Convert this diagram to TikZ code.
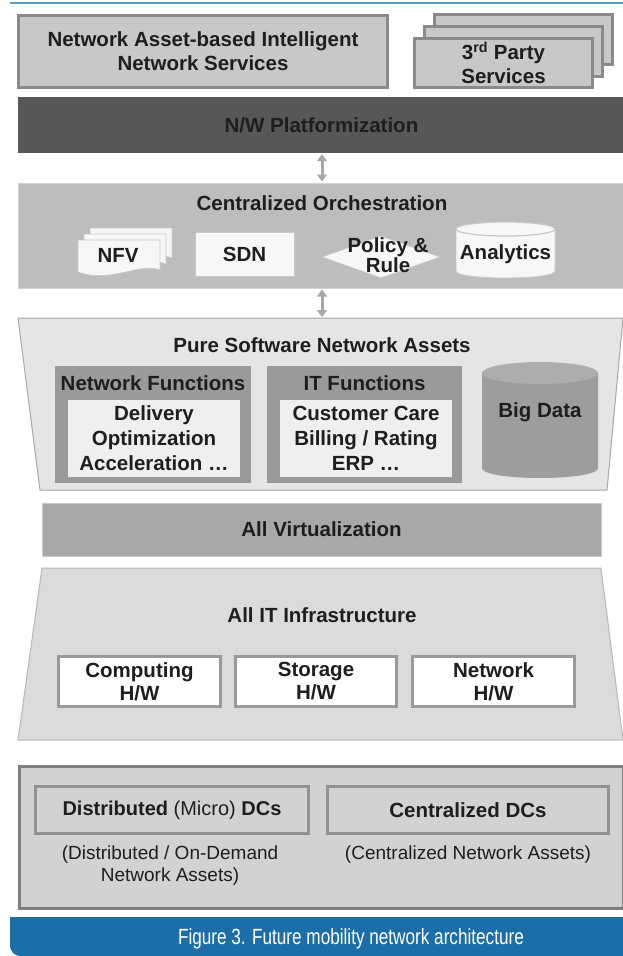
\documentclass[tikz,border=0pt]{standalone}
\usepackage{fontspec}
\setmainfont{Liberation Sans}
\newfontfamily\capfont[FakeStretch=0.78]{Liberation Sans}
\usetikzlibrary{arrows.meta}
\definecolor{ink}{HTML}{1E1E1E}
\definecolor{topblue}{HTML}{5E9CC8}
\definecolor{capblue}{RGB}{28,111,166}
\definecolor{svcfill}{HTML}{C8C8C8}
\definecolor{svcline}{HTML}{8A8A8A}
\definecolor{nwfill}{HTML}{575757}
\definecolor{orchfill}{HTML}{BDBDBD}
\definecolor{orchline}{HTML}{D2D2D2}
\definecolor{psfill}{HTML}{E5E5E5}
\definecolor{psline}{HTML}{A8A8A8}
\definecolor{fnfill}{HTML}{9A9A9A}
\definecolor{infill}{HTML}{EFEFEF}
\definecolor{bdfill}{HTML}{9D9D9D}
\definecolor{bdtop}{HTML}{ADADAD}
\definecolor{virtfill}{HTML}{A8A8A8}
\definecolor{itfill}{HTML}{DBDBDB}
\definecolor{itline}{HTML}{B8B8B8}
\definecolor{hwline}{HTML}{9A9A9A}
\definecolor{dcfill}{HTML}{D2D2D2}
\definecolor{dcline}{HTML}{7F7F7F}
\definecolor{dcinline}{HTML}{929292}
\definecolor{arrgray}{HTML}{A8A8A8}
\definecolor{lightline}{HTML}{C8C8C8}
\begin{document}
\begin{tikzpicture}[x=1pt,y=-1pt,
  lbl/.style={font=\fontsize{20.5}{24}\selectfont\bfseries, text=ink, align=center, inner sep=0pt},
  rlbl/.style={font=\fontsize{19}{22}\selectfont, text=ink, align=center, inner sep=0pt},
  svcbox/.style={draw=svcline, line width=3pt, fill=svcfill, inner sep=0pt},
  band/.style={inner sep=0pt},
  whitebox/.style={draw=lightline, line width=0.8pt, fill=white!97!black, inner sep=0pt},
  hwbox/.style={draw=hwline, line width=3pt, fill=white, inner sep=0pt},
  dcbox/.style={draw=dcinline, line width=3pt, fill=dcfill, inner sep=0pt},
  dblarrow/.style={draw=arrgray, line width=3pt, {Triangle[width=10pt,length=7pt]}-{Triangle[width=10pt,length=7pt]}, shorten >=1pt, shorten <=1pt}
]
\useasboundingbox (0,0) rectangle (623,956);
\fill[white] (0,0) rectangle (623,956);

% top blue rule
\draw[topblue, line width=2pt] (10,3) -- (623,3);

% services
\node[svcbox, minimum width=369pt, minimum height=72pt, lbl, font=\fontsize{20.5}{24}\selectfont\bfseries] (nas) at (203,51.5) {Network Asset-based Intelligent\\Network Services};
\node[svcbox, minimum width=178pt, minimum height=50pt] (tp3) at (523.5,39) {};
\node[svcbox, minimum width=178pt, minimum height=50pt] (tp2) at (513.5,51) {};
\node[svcbox, minimum width=178pt, minimum height=49pt, lbl, font=\fontsize{20.5}{24}\selectfont\bfseries] (tp1) at (503.5,63) {3\textsuperscript{rd} Party\\Services};

% N/W Platformization
\node[band, fill=nwfill, minimum width=607pt, minimum height=56pt, lbl] (nwp) at (321.5,125) {N/W Platformization};

% Centralized orchestration
\node[band, fill=orchfill, draw=orchline, line width=1pt, minimum width=607pt, minimum height=105pt] (orch) at (321.5,235.5) {};
\node[lbl] (orcht) at (322,203) {Centralized Orchestration};

% NFV page stack
\foreach \dx/\dy in {12/-12, 6/-6, 0/0}{
  \filldraw[fill=white!97!black, draw=lightline, line width=0.8pt, shift={(\dx,\dy)}]
    (78,240) -- (160,240) -- (160,270) .. controls (140,262) and (110,284) .. (78,272) -- cycle;
}
\node[lbl] (nfv) at (118,255) {NFV};

% SDN
\node[whitebox, minimum width=99pt, minimum height=44pt, lbl, font=\fontsize{20.5}{24}\selectfont\bfseries] (sdn) at (244.5,254) {SDN};

% Policy & Rule
\filldraw[fill=white!97!black, draw=lightline, line width=0.8pt] (322,257) -- (381,236) -- (440,257) -- (381,278) -- cycle;
\node[lbl, font=\fontsize{20.5}{14.5}\selectfont\bfseries] (pol) at (388,255) {Policy \&\\Rule};

% Analytics cylinder
\filldraw[fill=white!97!black, draw=lightline, line width=0.8pt]
  (456,229) -- (456,271) .. controls (456,280.3) and (555,280.3) .. (555,271) -- (555,229) -- cycle;
\filldraw[fill=white!97!black, draw=lightline, line width=1.2pt] (505.5,229) ellipse [x radius=49.5pt, y radius=7pt];
\node[lbl] (ana) at (505.5,254) {Analytics};

% arrows
\coordinate (psTop) at (322,318);
\draw[dblarrow] (nwp.south -| psTop) -- (orch.north -| psTop);
\draw[dblarrow] (orch.south -| psTop) -- (psTop);

% Pure Software Network Assets trapezoid
\filldraw[fill=psfill, draw=psline, line width=1pt] (18,318) -- (623,318) -- (607,490) -- (40,490) -- cycle;
\node[lbl] (pst) at (322,345) {Pure Software Network Assets};

\node[band, fill=fnfill, minimum width=196pt, minimum height=117pt] (nfb) at (153,424.5) {};
\node[lbl] (nft) at (153,383) {Network Functions};
\node[band, fill=infill, minimum width=172pt, minimum height=77pt, lbl, font=\fontsize{20.5}{25}\selectfont\bfseries] (nfi) at (154,438.5) {Delivery\\Optimization\\Acceleration \dots};

\node[band, fill=fnfill, minimum width=195pt, minimum height=117pt] (itb) at (364.5,424.5) {};
\node[lbl] (itt) at (364.5,383) {IT Functions};
\node[band, fill=infill, minimum width=172pt, minimum height=77pt, lbl, font=\fontsize{20.5}{25}\selectfont\bfseries] (iti) at (366,438.5) {Customer Care\\Billing / Rating\\ERP \dots};

% Big Data cylinder
\fill[bdfill] (482,373) -- (482,468) .. controls (482,481.3) and (598,481.3) .. (598,468) -- (598,373) -- cycle;
\fill[bdtop] (540,373) ellipse [x radius=58pt, y radius=11pt];
\node[lbl] (bd) at (540,412) {Big Data};

% All Virtualization
\node[band, fill=virtfill, draw=lightline, line width=0.8pt, minimum width=559pt, minimum height=53pt, lbl] (virt) at (321.5,529.5) {All Virtualization};

% All IT Infrastructure trapezoid
\filldraw[fill=itfill, draw=itline, line width=1pt] (42,568) -- (601,568) -- (623,740) -- (18,740) -- cycle;
\node[lbl] (itinf) at (322,615) {All IT Infrastructure};
\node[hwbox, minimum width=162pt, minimum height=50pt, lbl, font=\fontsize{20.5}{23}\selectfont\bfseries] (comp) at (139.5,681.5) {Computing\\H/W};
\node[hwbox, minimum width=161pt, minimum height=50pt, lbl, font=\fontsize{20.5}{23}\selectfont\bfseries] (stor) at (316,681.5) {Storage\\H/W};
\node[hwbox, minimum width=162pt, minimum height=50pt, lbl, font=\fontsize{20.5}{23}\selectfont\bfseries] (netw) at (493.5,681.5) {Network\\H/W};

% Data centers
\node[draw=dcline, line width=3pt, fill=dcfill, minimum width=604pt, minimum height=142pt, inner sep=0pt] (dcs) at (321.5,837.5) {};
\node[dcbox, minimum width=273pt, minimum height=47pt, font=\fontsize{20}{24}\selectfont, text=ink] (ddc) at (172,810) {\textbf{Distributed} (Micro) \textbf{DCs}};
\node[dcbox, minimum width=281pt, minimum height=47pt, lbl, font=\fontsize{20.5}{24}\selectfont\bfseries] (cdc) at (468,810) {Centralized DCs};
\node[rlbl] (ddcs) at (170,866) {(Distributed / On-Demand\\Network Assets)};
\node[rlbl] (cdcs) at (468,855) {(Centralized Network Assets)};

% caption bar
\fill[capblue] (10,917) -- (10,944) .. controls (10,952) and (14,956) .. (22,956) -- (623,956) -- (623,917) -- cycle;
\node[font=\capfont\fontsize{22}{24}\selectfont, text=white, inner sep=0pt] (cap) at (351,939) {Figure 3. Future mobility network architecture};
\end{tikzpicture}
\end{document}
